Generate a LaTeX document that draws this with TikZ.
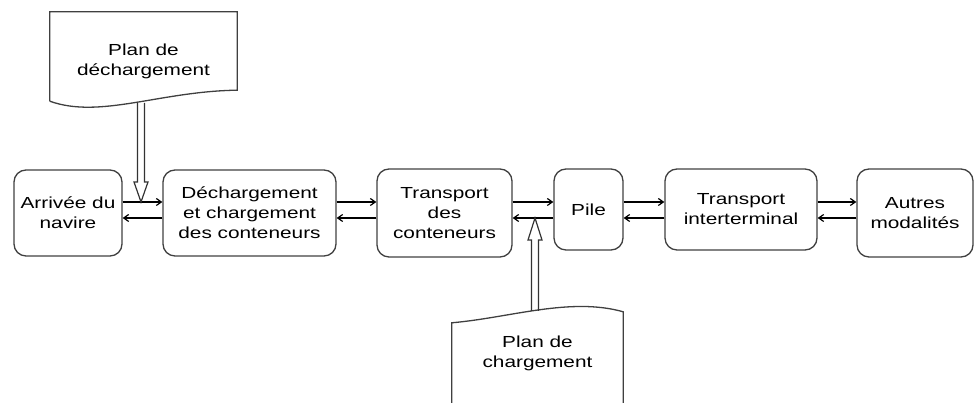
\documentclass[tikz,border=0pt]{standalone}
\usepackage{fontspec}
\setmainfont{Liberation Sans}[FakeStretch=1.3]
\usetikzlibrary{arrows.meta,calc}
\begin{document}
\begin{tikzpicture}[x=1pt, y=1pt, font=\fontsize{16}{20}\selectfont,
  box/.style={draw=black!75, line width=1.3pt, rounded corners=12pt, align=center, inner sep=2pt},
  doc/.style={align=center, inner sep=0pt},
  docline/.style={draw=black!75, line width=1.3pt},
  flow/.style={line width=1.2pt, -{Straight Barb[length=5pt, width=7pt]}},
  hollow/.style={draw=black!80, line width=1.2pt, line join=miter}]
\useasboundingbox (0,0) rectangle (974,403);
\clip (0,0) rectangle (974,403);
\coordinate (up) at (0,201);
\coordinate (dn) at (0,185);
% chaine principale
\node[box, minimum width=108pt, minimum height=86pt] (arr) at (68,190) {Arrivée du\\navire};
\node[box, minimum width=173pt, minimum height=86pt] (dech) at (249.5,190) {Déchargement\\et chargement\\des conteneurs};
\node[box, minimum width=135pt, minimum height=88pt] (trc) at (444.5,190) {Transport\\des\\conteneurs};
\node[box, minimum width=69pt, minimum height=81pt] (pile) at (588.5,193.5) {Pile};
\node[box, minimum width=152pt, minimum height=81pt] (tri) at (741,193.5) {Transport\\interterminal};
\node[box, minimum width=116pt, minimum height=88pt] (aut) at (915,190) {Autres\\modalités};
\foreach \a/\b in {arr/dech, dech/trc, trc/pile, pile/tri, tri/aut}{
\draw[flow] (\a.east |- up) -- (\b.west |- up);
\draw[flow] (\b.west |- dn) -- (\a.east |- dn);
}
% documents
\node[doc, minimum width=187pt, minimum height=98pt] (pdech) at (143.5,342) {Plan de\\déchargement};
\draw[docline] ([yshift=9pt]pdech.south west) -- (pdech.north west) -- (pdech.north east) -- ([yshift=20pt]pdech.south east)
  .. controls ([shift={(-77pt,19pt)}]pdech.south east) and ([shift={(50pt,-9pt)}]pdech.south west) .. ([yshift=9pt]pdech.south west);
\node[doc, minimum width=171pt, minimum height=60pt] (pch) at (537.5,50) {Plan de\\chargement};
\draw[docline] ([yshift=-30pt]pch.south west) -- (pch.north west)
  .. controls ([shift={(58pt,5pt)}]pch.north west) and ([shift={(-53pt,26pt)}]pch.north east) .. ([yshift=11pt]pch.north east)
  -- ([yshift=-30pt]pch.south east);
% fleches creuses
\coordinate (sd) at (141,300);
\coordinate (td) at (141,201);
\coordinate (su) at (535,92);
\coordinate (tu) at (535,185);
\foreach \s/\t/\h in {sd/td/20pt, su/tu/-22pt}{
\draw[hollow] let \p1=(\s), \p2=(\t) in
  (\x2-3.5pt,\y1) -- (\x2-3.5pt,\y2+\h) -- (\x2-7pt,\y2+\h) -- (\p2)
  -- (\x2+7pt,\y2+\h) -- (\x2+3.5pt,\y2+\h) -- (\x2+3.5pt,\y1);
}
\end{tikzpicture}
\end{document}
